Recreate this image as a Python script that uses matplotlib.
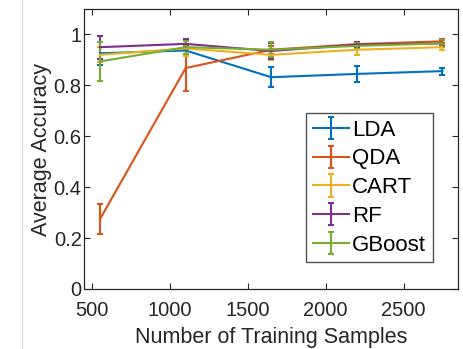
import matplotlib
matplotlib.use("Agg")
import matplotlib.pyplot as plt
from matplotlib.lines import Line2D

plt.rcParams['font.family'] = ['Liberation Sans', 'DejaVu Sans']

samples = [550, 1100, 1650, 2200, 2750]
names = ["LDA", "QDA", "CART", "RF", "GBoost"]
colors = ["#0072BD", "#D95319", "#EDB120", "#7E2F8E", "#77AC30"]

lda_mean = [0.926, 0.937, 0.832, 0.845, 0.856]
lda_err = [0.045, 0.015, 0.040, 0.030, 0.014]
qda_mean = [0.275, 0.868, 0.940, 0.962, 0.973]
qda_err = [0.060, 0.090, 0.015, 0.010, 0.008]
cart_mean = [0.920, 0.945, 0.920, 0.940, 0.950]
cart_err = [0.030, 0.030, 0.022, 0.020, 0.010]
rf_mean = [0.950, 0.963, 0.935, 0.960, 0.965]
rf_err = [0.045, 0.020, 0.030, 0.012, 0.012]
gb_mean = [0.894, 0.950, 0.940, 0.955, 0.965]
gb_err = [0.077, 0.025, 0.030, 0.012, 0.015]

means = [lda_mean, qda_mean, cart_mean, rf_mean, gb_mean]
errs = [lda_err, qda_err, cart_err, rf_err, gb_err]

fig = plt.figure(figsize=(4.64, 3.49), dpi=100)
ax = fig.add_axes([84.5/464, 1 - 289/349, (458-84.5)/464, (289-9)/349])

for name, c, m, e in zip(names, colors, means, errs):
    ax.errorbar(samples, m, yerr=e, color=c, lw=1.5, elinewidth=1.5,
                capsize=2.5, capthick=1.5, label=name)

ax.set_xlim(450, 2850)
ax.set_ylim(0, 1.1)
ax.set_xticks([500, 1000, 1500, 2000, 2500])
ax.set_yticks([0, 0.2, 0.4, 0.6, 0.8, 1])
ax.set_yticklabels(["0", "0.2", "0.4", "0.6", "0.8", "1"])
ax.tick_params(direction='in', length=4, width=0.8, labelsize=14.5, colors='#262626',
               top=True, right=True, pad=2)
ax.tick_params(axis='x', pad=9)
for s in ax.spines.values():
    s.set_color('#262626')
    s.set_linewidth(0.9)
ax.set_xlabel("Number of Training Samples", fontsize=15.5, color='#262626', labelpad=5)
ax.set_ylabel("Average Accuracy", fontsize=15.5, color='#262626', labelpad=1)

leg = ax.legend(loc='lower right', bbox_to_anchor=(0.932, 0.095), fontsize=16,
                frameon=True, fancybox=False, edgecolor='#262626',
                handlelength=1.6, handletextpad=0.15, borderpad=0.3,
                labelspacing=0.35, borderaxespad=0)
leg.get_frame().set_linewidth(1.0)

fig.add_artist(Line2D([22/464, 22/464], [0, 1], color='#d8d8d8', lw=0.8))

fig.savefig("out.png", dpi=100)
